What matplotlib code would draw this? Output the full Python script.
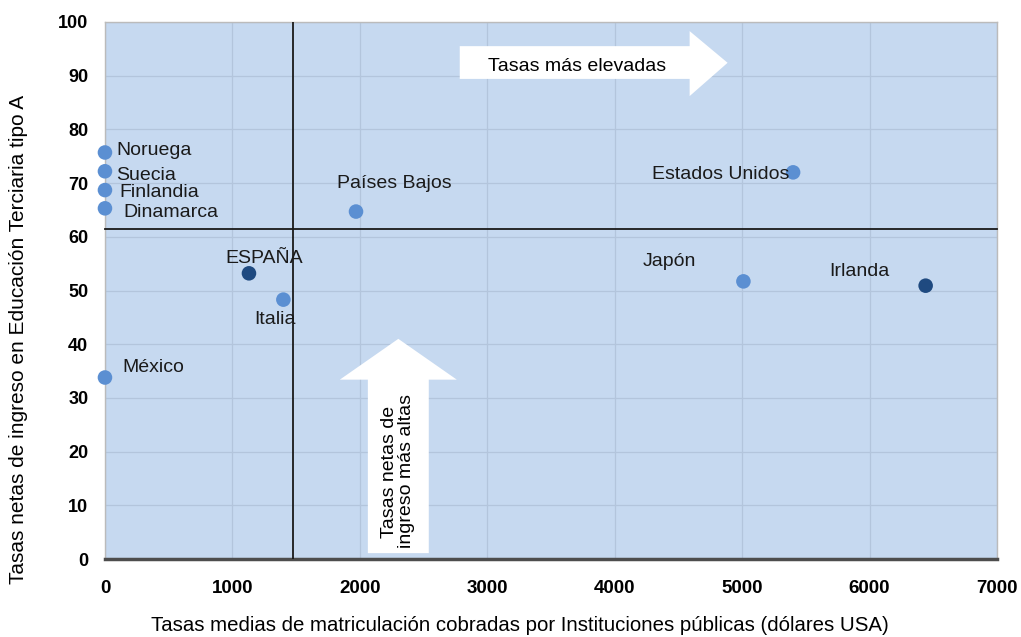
import matplotlib
matplotlib.use("Agg")
import matplotlib.pyplot as plt
from matplotlib.patches import Polygon

plt.rcParams["font.family"] = ["Liberation Sans", "DejaVu Sans"]

# data
countries = ["Noruega", "Suecia", "Finlandia", "Dinamarca", "ESPAÑA", "Italia",
             "Países Bajos", "Estados Unidos", "Japón", "Irlanda", "México"]
tuition = [0, 0, 0, 0, 1130, 1400, 1970, 5400, 5010, 6440, 0]
entry_rate = [75.7, 72.2, 68.7, 65.3, 53.2, 48.3, 64.7, 72.0, 51.7, 50.9, 33.8]
highlight = ["ESPAÑA", "Irlanda"]

mean_tuition = 1475
mean_rate = 61.4

x_ticks = list(range(0, 7001, 1000))
y_ticks = list(range(0, 101, 10))

# label offsets in pixels (dx, dy) from each point
label_offsets = {
    "Noruega": (11, 2), "Suecia": (11, -4), "Finlandia": (14, -2),
    "Dinamarca": (18, -4), "ESPAÑA": (-24, 15), "Italia": (-29, -20),
    "Países Bajos": (-19, 28), "Estados Unidos": (-141, -2),
    "Japón": (-101, 20), "Irlanda": (-96, 14), "México": (17, 10),
}

light = "#5B8FD2"
dark = "#1F4A80"
bg = "#C6D9F0"

fig = plt.figure(figsize=(10.21, 6.37), dpi=100)
ax = fig.add_axes([0.1028, 0.1224, 0.8737, 0.8431])
ax.set_facecolor(bg)
ax.set_xlim(0, 7000)
ax.set_ylim(0, 100)
ax.set_xticks(x_ticks)
ax.set_yticks(y_ticks)
ax.grid(True, color="#B3C5DC", linewidth=0.9)
ax.set_axisbelow(True)
ax.tick_params(axis="y", length=0, labelsize=13, pad=12)
ax.tick_params(axis="x", length=0, labelsize=13.5, pad=15)
for lab in ax.get_xticklabels() + ax.get_yticklabels():
    lab.set_fontweight("bold")
for side in ["top", "right", "left"]:
    ax.spines[side].set_color("#BBBBBB")
    ax.spines[side].set_linewidth(1)
ax.spines["bottom"].set_color("#4D4D4D")
ax.spines["bottom"].set_linewidth(2.5)

# white arrows
ax.add_patch(Polygon([(2784, 95.5), (4588, 95.5), (4588, 98.3), (4886, 92.4),
                      (4588, 86.2), (4588, 89.4), (2784, 89.4)],
                     closed=True, facecolor="white", edgecolor="none", zorder=2))
ax.add_patch(Polygon([(2063, 1.1), (2063, 33.4), (1843, 33.4), (2302, 41.0),
                      (2761, 33.4), (2541, 33.4), (2541, 1.1)],
                     closed=True, facecolor="white", edgecolor="none", zorder=2))
ax.text(3702, 91.8, "Tasas más elevadas", ha="center", va="center", fontsize=14, zorder=3)
ax.text(2300, 16.3, "Tasas netas de\ningreso más altas", ha="center", va="center",
        rotation=90, fontsize=14, linespacing=0.95, zorder=3)

# mean lines
ax.axhline(mean_rate, color="#1A1A1A", linewidth=1.3, zorder=3, clip_on=False)
ax.axvline(mean_tuition, color="#1A1A1A", linewidth=1.3, zorder=3)

colors = [dark if c in highlight else light for c in countries]
ax.scatter(tuition, entry_rate, s=110, c=colors, edgecolors="none", zorder=4, clip_on=False)

for name, xv, yv in zip(countries, tuition, entry_rate):
    dx, dy = label_offsets[name]
    ax.annotate(name, (xv, yv), xytext=(dx, dy), textcoords="offset pixels",
                ha="left", va="center", fontsize=14, color="#1A1A1A", zorder=5)

ax.set_xlabel("Tasas medias de matriculación cobradas por Instituciones públicas (dólares USA)",
              fontsize=14.7)
ax.set_ylabel("Tasas netas de ingreso en Educación Terciaria tipo A", fontsize=15)
ax.xaxis.set_label_coords(0.465, -0.106)
ax.yaxis.set_label_coords(-0.086, 0.408)

fig.savefig("out.png", dpi=100)
